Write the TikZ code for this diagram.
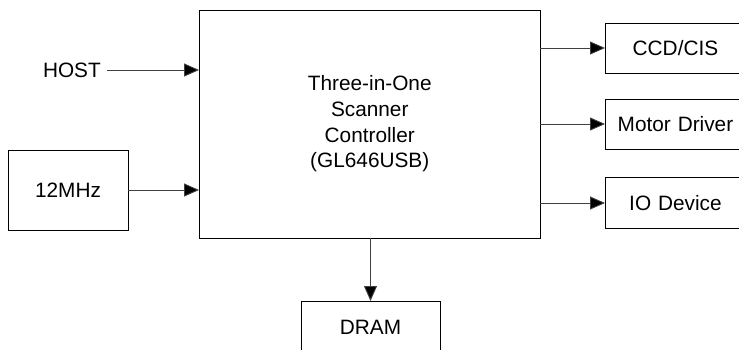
\documentclass[tikz,border=0pt]{standalone}
\usepackage{fontspec}
\setmainfont{Liberation Sans}
\usetikzlibrary{arrows.meta}
\begin{document}
\begin{tikzpicture}[x=1pt,y=-1pt,
  blk/.style={draw=black,line width=0.9pt,inner sep=0pt,font=\fontsize{20.8}{25.7}\selectfont,align=center},
  conn/.style={draw=black!75,line width=0.9pt,-{Triangle[length=15pt,width=13pt,fill=black]}},
  lbl/.style={inner sep=3pt,font=\fontsize{20.8}{25.7}\selectfont}]
\useasboundingbox (0,0) rectangle (739,349);
\clip (0,0) rectangle (739,349);
\node[blk,minimum width=340.5pt,minimum height=228pt] (ctl) at (369.75,124) {Three-in-One\\Scanner\\Controller\\(GL646USB)};
\node[blk,minimum width=120pt,minimum height=80pt] (clk) at (68,190) {12MHz};
\node[lbl,anchor=east] (host) at (104,70) {HOST};
\node[blk,minimum width=160pt,minimum height=50pt,text width=160pt,anchor=west] (ccd) at (605,48) {\hspace*{-20pt}CCD/CIS};
\node[blk,minimum width=160pt,minimum height=50pt,text width=160pt,anchor=west] (mot) at (605,124) {\hspace*{-20pt}Motor Driver};
\node[blk,minimum width=160pt,minimum height=51pt,text width=160pt,anchor=west] (io) at (605,203) {\hspace*{-20pt}IO Device};
\node[blk,minimum width=139pt,minimum height=80pt,anchor=north] (dram) at (370.5,301) {};
\node[font=\fontsize{20.8}{25.7}\selectfont] (dramt) at (370.5,327) {DRAM};
\coordinate (h1) at (107,70);
\coordinate (h2) at (ctl.west |- h1);
\draw[conn] (h1) -- (h2);
\draw[conn] (clk.east) -- (ctl.west |- clk.east);
\draw[conn] (ctl.east |- ccd.west) -- (ccd.west);
\draw[conn] (ctl.east |- mot.west) -- (mot.west);
\draw[conn] (ctl.east |- io.west) -- (io.west);
\draw[conn] (ctl.south -| dram.north) -- (dram.north);
\end{tikzpicture}
\end{document}
